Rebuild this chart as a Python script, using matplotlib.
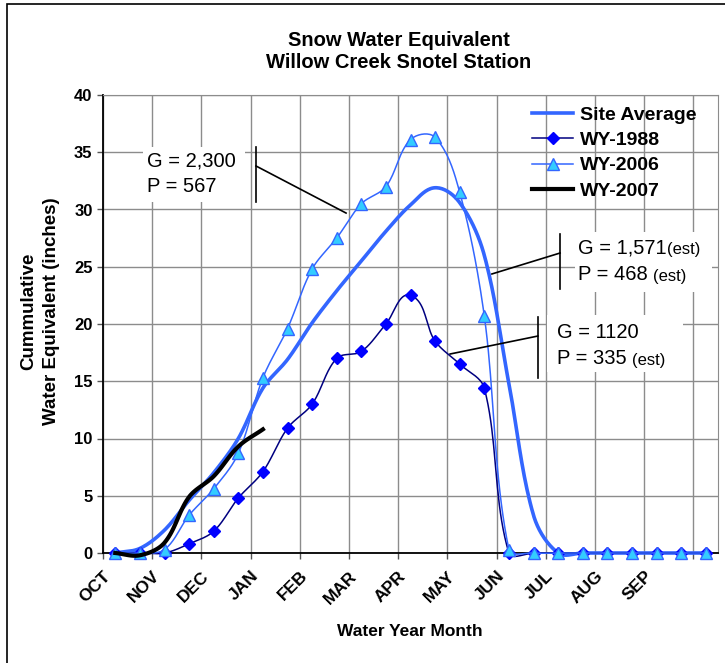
import numpy as np
import matplotlib
matplotlib.use("Agg")
import matplotlib.pyplot as plt
from matplotlib.patches import Rectangle

plt.rcParams["font.family"] = "Liberation Sans"

# ---------------------------------------------------------------------------
# Data: semi-monthly readings over the water year (25 per series)
# ---------------------------------------------------------------------------
months = ["OCT", "NOV", "DEC", "JAN", "FEB", "MAR", "APR",
          "MAY", "JUN", "JUL", "AUG", "SEP", ""]

site_avg = [0, 0.4, 2.0, 4.6, 7.0, 10.0, 14.4, 16.9, 20.1, 22.9, 25.5, 28.1,
            30.4, 31.9, 30.6, 26.0, 14.8, 3.3, 0, 0, 0, 0, 0, 0, 0]
wy1988 = [0, 0, 0, 0.8, 1.9, 4.8, 7.1, 10.9, 13.0, 17.0, 17.6, 20.0,
          22.5, 18.5, 16.5, 14.4, 0, 0, 0, 0, 0, 0, 0, 0, 0]
wy2006 = [0, 0, 0.3, 3.3, 5.6, 8.7, 15.3, 19.6, 24.8, 27.5, 30.5, 32.0,
          36.1, 36.3, 31.5, 20.7, 0.3, 0, 0, 0, 0, 0, 0, 0, 0]
wy2007 = [0, -0.2, 0.9, 4.9, 6.7, 9.3, 10.8]

# callout text: (main text, small suffix)
notes_2006 = [("G = 2,300", ""), ("P = 567", "")]
notes_avg = [("G = 1,571", "(est)"), ("P = 468 ", "(est)")]
notes_1988 = [("G = 1120", ""), ("P = 335 ", "(est)")]

# pixel size of one x unit / one y unit, used so the smoothing works on the
# drawn shape (arms scale with neighbouring segment lengths, like Excel)
SX, SY = 24.6, 11.45


def smooth(y, n=20, k=0.33):
    y = np.asarray(y, float)
    P = np.column_stack([np.arange(len(y)) * SX, y * SY])
    npts = len(P)
    out_c, in_c = [], []
    for i in range(npts):
        prev = P[max(i - 1, 0)]
        nxt = P[min(i + 1, npts - 1)]
        d = nxt - prev
        nd = np.hypot(*d)
        u = d / nd if nd > 0 else np.zeros(2)
        d1 = np.hypot(*(P[i] - prev))
        d2 = np.hypot(*(nxt - P[i]))
        out_c.append(P[i] + u * d2 * k)
        in_c.append(P[i] - u * d1 * k)
    t = np.linspace(0, 1, n, endpoint=False)[:, None]
    segs = []
    for i in range(npts - 1):
        a, b, c, e = P[i], out_c[i], in_c[i + 1], P[i + 1]
        segs.append((1 - t) ** 3 * a + 3 * (1 - t) ** 2 * t * b
                    + 3 * (1 - t) * t ** 2 * c + t ** 3 * e)
    segs.append(P[-1][None, :])
    pts = np.vstack(segs)
    return pts[:, 0] / SX, pts[:, 1] / SY


fig = plt.figure(figsize=(7.25, 6.63), dpi=100)
ax = fig.add_axes([103 / 725, 1 - 553 / 663, 615 / 725, 458 / 663])

blue = "#3366FF"

x, y = smooth(site_avg)
ax.plot(x, y, color=blue, lw=2.6, clip_on=False, zorder=3)

x, y = smooth(wy1988)
ax.plot(x, y, color="#000080", lw=1.1, clip_on=False, zorder=4)
ax.plot(range(len(wy1988)), wy1988, ls="none", marker="D", ms=6.5,
        mfc="#0000FF", mec="#0000FF", clip_on=False, zorder=4)

x, y = smooth(wy2006)
ax.plot(x, y, color=blue, lw=1.1, clip_on=False, zorder=5)
ax.plot(range(len(wy2006)), wy2006, ls="none", marker="^", ms=8.5,
        mfc="#33CCFF", mec=blue, mew=1.0, clip_on=False, zorder=5)

x, y = smooth(wy2007)
ax.plot(x, y, color="black", lw=3.0, clip_on=False, zorder=6)

# legend proxies
h_avg, = ax.plot([], [], color=blue, lw=2.6)
h_88, = ax.plot([], [], color="#000080", lw=1.1, marker="D", ms=6.5,
                mfc="#0000FF", mec="#0000FF")
h_06, = ax.plot([], [], color=blue, lw=1.1, marker="^", ms=8.5,
                mfc="#33CCFF", mec=blue)
h_07, = ax.plot([], [], color="black", lw=3.0)
leg = ax.legend([h_avg, h_88, h_06, h_07],
                ["Site Average", "WY-1988", "WY-2006", "WY-2007"],
                loc="upper left", bbox_to_anchor=(0.682, 0.997),
                frameon=False, borderpad=0, handlelength=2.1,
                handletextpad=0.35, labelspacing=0.4,
                prop={"weight": "bold", "size": 14})
leg.set_zorder(7)

# axes
ax.set_xlim(-0.5, 24.5)
ax.set_ylim(0, 40)
ax.set_xticks(np.arange(-0.5, 24, 2))
ax.set_xticklabels(months, rotation=45, ha="right", rotation_mode="anchor",
                   fontweight="bold", fontsize=12.5)
ax.set_yticks(range(0, 41, 5))
ax.set_yticklabels([str(v) for v in range(0, 41, 5)], fontweight="bold",
                   fontsize=12)
ax.tick_params(direction="out", length=4, width=1.0, color="#555555")
ax.tick_params(axis="x", pad=7)
ax.grid(True, color="#8c8c8c", lw=1.0)
ax.set_axisbelow(True)
for s in ("top", "right"):
    ax.spines[s].set_color("#8c8c8c")
for s in ("left", "bottom"):
    ax.spines[s].set_color("black")
    ax.spines[s].set_linewidth(1.3)
    ax.spines[s].set_zorder(2.5)


def callout(box, lines, x0, y_top, line_h, bar, tip):
    bx0, by0, bx1, by1 = box
    ax.add_patch(Rectangle((bx0, by0), bx1 - bx0, by1 - by0, fc="white",
                           ec="none", zorder=1.5))
    for k, (main, small) in enumerate(lines):
        t = ax.text(x0, y_top - k * line_h, main, fontsize=14.5,
                    va="center", ha="left", zorder=6)
        if small:
            ax.annotate(small, xy=(1, 0), xycoords=t, fontsize=12,
                        va="bottom", ha="left", zorder=6)
    bxx, by_lo, by_hi, by_join = bar
    ax.plot([bxx, bxx], [by_lo, by_hi], color="black", lw=1.2, zorder=6)
    ax.plot([bxx, tip[0]], [by_join, tip[1]], color="black", lw=1.2, zorder=6)


callout((1.13, 30.66, 5.27, 35.46), notes_2006, 1.29, 34.24, 2.27,
        (5.72, 30.66, 35.46, 33.8), (9.38, 29.69))
callout((18.69, 22.79, 24.26, 28.03), notes_avg, 18.81, 26.64, 2.36,
        (18.08, 23.06, 27.86, 26.2), (15.31, 24.37))
callout((17.55, 15.81, 23.08, 20.79), notes_1988, 17.96, 19.3, 2.27,
        (17.18, 15.28, 20.61, 18.95), (13.61, 17.38))

# titles and axis labels
fig.text(399 / 725, 1 - 51.5 / 663,
         "Snow Water Equivalent\nWillow Creek Snotel Station",
         ha="center", va="center", fontsize=14.5, fontweight="bold",
         linespacing=1.2)
fig.text(40 / 725, 1 - 311 / 663, "Cummulative\nWater Equivalent (inches)",
         rotation=90, ha="center", va="center", fontsize=13.5,
         fontweight="bold", multialignment="center", linespacing=1.4)
fig.text(410 / 725, 1 - 632 / 663, "Water Year Month", ha="center",
         va="center", fontsize=12.5, fontweight="bold")

# chart area border
fig.patches.append(Rectangle((7 / 725, -0.05), 1.2, 1.05 - 4 / 663,
                             transform=fig.transFigure, fill=False,
                             ec="black", lw=1.2))

fig.savefig("out.png", dpi=100)
